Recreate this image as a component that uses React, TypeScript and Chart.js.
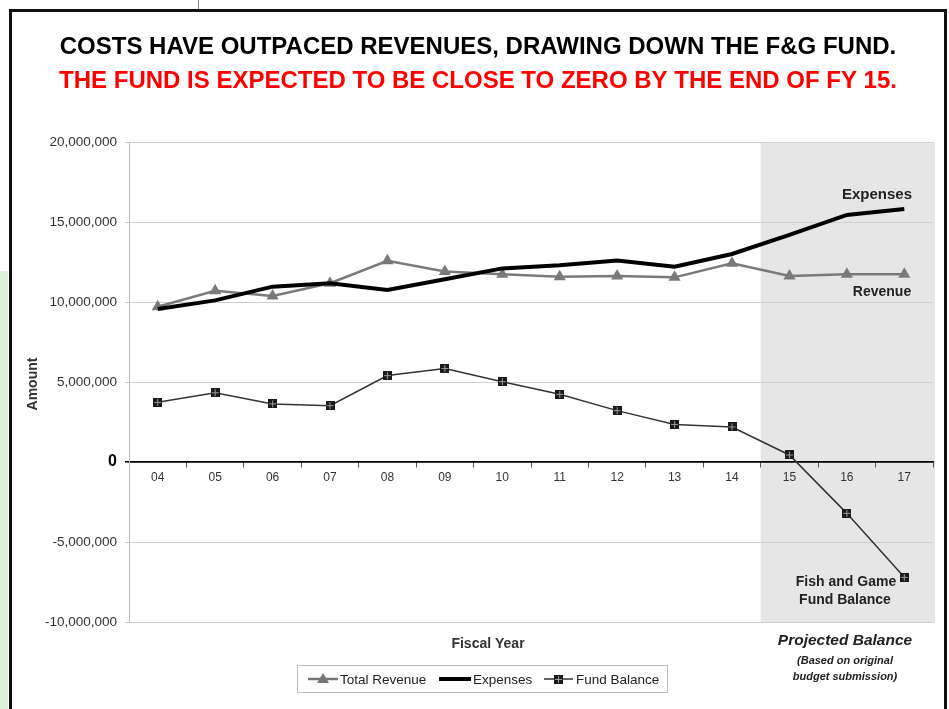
import React, { useEffect, useRef } from "react";
import { Chart, registerables } from "chart.js";

Chart.register(...registerables);

const categories = ["04", "05", "06", "07", "08", "09", "10", "11", "12", "13", "14", "15", "16", "17"];
const totalRevenue = [9700000, 10700000, 10380000, 11170000, 12580000, 11900000, 11730000, 11580000, 11630000, 11540000, 12420000, 11630000, 11730000, 11730000];
const expenses = [9560000, 10100000, 10960000, 11170000, 10750000, 11420000, 12100000, 12300000, 12600000, 12200000, 13000000, 14200000, 15440000, 15810000];
const fundBalance = [3730000, 4330000, 3630000, 3520000, 5400000, 5850000, 5020000, 4230000, 3210000, 2350000, 2190000, 440000, -3210000, -7210000];
const yTicks = [20000000, 15000000, 10000000, 5000000, 0, -5000000, -10000000];
const projectedFromIndex = 11;

const FONT = "'Liberation Sans', Arial, Helvetica, sans-serif";

function makeSquareMarker(): HTMLCanvasElement {
  const c = document.createElement("canvas");
  c.width = 9;
  c.height = 9;
  const g = c.getContext("2d")!;
  g.fillStyle = "#1a1a1a";
  g.fillRect(0, 0, 9, 9);
  g.fillStyle = "#9a9a9a";
  g.fillRect(4, 1, 1, 7);
  g.fillRect(1, 4, 7, 1);
  return c;
}

const marker = makeSquareMarker();

const decorPlugin = {
  id: "decor",
  beforeDraw(chart: any) {
    const ctx = chart.ctx as CanvasRenderingContext2D;
    const { chartArea } = chart;
    const xs = chart.scales.x;
    ctx.save();
    ctx.fillStyle = "#ffffff";
    ctx.fillRect(0, 0, chart.width, chart.height);
    // page remnants
    ctx.fillStyle = "#dfeedd";
    ctx.fillRect(0, 271, 8, chart.height - 271);
    ctx.strokeStyle = "#888";
    ctx.lineWidth = 1;
    ctx.beginPath();
    ctx.moveTo(198.5, 0);
    ctx.lineTo(198.5, 9);
    ctx.stroke();
    // frame
    ctx.strokeStyle = "#111";
    ctx.lineWidth = 3;
    ctx.strokeRect(10.5, 10.5, 935, chart.height + 10);
    // projected shading
    const a = xs.getPixelForValue(projectedFromIndex - 1);
    const b = xs.getPixelForValue(projectedFromIndex);
    const sx = (a + b) / 2;
    ctx.fillStyle = "#e6e6e6";
    ctx.fillRect(sx, chartArea.top, chartArea.right - sx + 2, chartArea.bottom - chartArea.top + 1);
    ctx.restore();
  },
  afterDraw(chart: any) {
    const ctx = chart.ctx as CanvasRenderingContext2D;
    ctx.save();
    ctx.textAlign = "center";
    ctx.textBaseline = "middle";
    // titles
    ctx.font = `bold 24px ${FONT}`;
    ctx.fillStyle = "#000";
    ctx.fillText("COSTS HAVE OUTPACED REVENUES, DRAWING DOWN THE F&G FUND.", 478, 47);
    ctx.fillStyle = "#ff0000";
    ctx.fillText("THE FUND IS EXPECTED TO BE CLOSE TO ZERO BY THE END OF FY 15.", 478, 81);

    // axis titles
    ctx.fillStyle = "#333";
    ctx.font = `bold 14px ${FONT}`;
    ctx.fillText("Fiscal Year", 488, 644);
    ctx.save();
    ctx.translate(33, 384);
    ctx.rotate(-Math.PI / 2);
    ctx.fillText("Amount", 0, 0);
    ctx.restore();

    // annotations
    ctx.fillStyle = "#222";
    ctx.font = `bold 15px ${FONT}`;
    ctx.fillText("Expenses", 877, 195);
    ctx.font = `bold 14px ${FONT}`;
    ctx.fillText("Revenue", 882, 292);
    ctx.fillText("Fish and Game", 846, 582);
    ctx.fillText("Fund Balance", 845, 600);
    ctx.font = `italic bold 15.5px ${FONT}`;
    ctx.fillText("Projected Balance", 845, 641);
    ctx.font = `italic bold 11px ${FONT}`;
    ctx.fillText("(Based on original", 845, 661);
    ctx.fillText("budget submission)", 845, 677);

    // legend
    ctx.strokeStyle = "#bdbdbd";
    ctx.lineWidth = 1;
    ctx.strokeRect(297.5, 665.5, 370, 27);
    const ly = 679;
    ctx.font = `13.5px ${FONT}`;
    ctx.textAlign = "left";
    // Total Revenue
    ctx.strokeStyle = "#777";
    ctx.lineWidth = 2.5;
    ctx.beginPath();
    ctx.moveTo(308, ly);
    ctx.lineTo(338, ly);
    ctx.stroke();
    ctx.fillStyle = "#777";
    ctx.beginPath();
    ctx.moveTo(323, ly - 6);
    ctx.lineTo(329, ly + 4);
    ctx.lineTo(317, ly + 4);
    ctx.closePath();
    ctx.fill();
    ctx.fillStyle = "#222";
    ctx.fillText("Total Revenue", 340, ly + 1);
    // Expenses
    ctx.strokeStyle = "#000";
    ctx.lineWidth = 4;
    ctx.beginPath();
    ctx.moveTo(439, ly);
    ctx.lineTo(471, ly);
    ctx.stroke();
    ctx.fillText("Expenses", 473, ly + 1);
    // Fund Balance
    ctx.strokeStyle = "#333";
    ctx.lineWidth = 1.5;
    ctx.beginPath();
    ctx.moveTo(544, ly);
    ctx.lineTo(573, ly);
    ctx.stroke();
    ctx.drawImage(marker, 554, ly - 4);
    ctx.fillText("Fund Balance", 576, ly + 1);
    ctx.restore();
  },
};

export default function App() {
  const ref = useRef<HTMLCanvasElement | null>(null);

  useEffect(() => {
    if (!ref.current) return;
    const chart = new Chart(ref.current, {
      type: "line",
      data: {
        labels: categories,
        datasets: [
          {
            label: "Total Revenue",
            data: totalRevenue,
            borderColor: "#7a7a7a",
            backgroundColor: "#7a7a7a",
            borderWidth: 2.5,
            pointStyle: "triangle",
            pointRadius: 7,
            pointBorderWidth: 0,
            tension: 0,
            order: 2,
          },
          {
            label: "Expenses",
            data: expenses,
            borderColor: "#000",
            backgroundColor: "#000",
            borderWidth: 4,
            pointRadius: 0,
            tension: 0,
            order: 1,
          },
          {
            label: "Fund Balance",
            data: fundBalance,
            borderColor: "#333",
            backgroundColor: "#1a1a1a",
            borderWidth: 1.5,
            pointStyle: marker as any,
            pointRadius: 5,
            tension: 0,
            order: 3,
          },
        ],
      },
      options: {
        responsive: false,
        animation: false,
        layout: { padding: { top: 142, bottom: 87, left: 0, right: 16 } },
        plugins: {
          legend: { display: false },
          title: { display: false },
          tooltip: { enabled: false },
        },
        scales: {
          x: {
            type: "category",
            position: { y: 0 } as any,
            offset: true,
            grid: {
              drawOnChartArea: false,
              drawTicks: true,
              offset: true,
              tickLength: 5,
              color: "#555",
            },
            border: { display: true, color: "#000", width: 1.5 },
            ticks: {
              color: "#333",
              font: { family: FONT, size: 12 },
              padding: 3,
              maxRotation: 0,
            },
          },
          y: {
            type: "linear",
            min: -10000000,
            max: 20000000,
            afterFit(scale: any) {
              scale.width = 129;
            },
            afterBuildTicks(scale: any) {
              scale.ticks = yTicks.map((v) => ({ value: v }));
            },
            grid: {
              color: (c: any) => (c.tick && c.tick.value === 0 ? "#000" : "#cfcfcf"),
              lineWidth: (c: any) => (c.tick && c.tick.value === 0 ? 1.5 : 1),
              tickLength: 4,
            },
            border: { display: true, color: "#bdbdbd", width: 1 },
            ticks: {
              padding: 8,
              color: (c: any) => (c.tick && c.tick.value === 0 ? "#000" : "#333"),
              font: (c: any) =>
                c.tick && c.tick.value === 0
                  ? { family: FONT, size: 16, weight: "bold" }
                  : { family: FONT, size: 13.5 },
              callback: (v: any) => Number(v).toLocaleString("en-US"),
            },
          },
        },
      },
      plugins: [decorPlugin],
    });
    return () => chart.destroy();
  }, []);

  return (
    <div style={{ position: "absolute", left: 0, top: 0, width: 949, height: 709, overflow: "hidden" }}>
      <canvas ref={ref} width={949} height={709} style={{ display: "block", width: 949, height: 709 }} />
    </div>
  );
}
